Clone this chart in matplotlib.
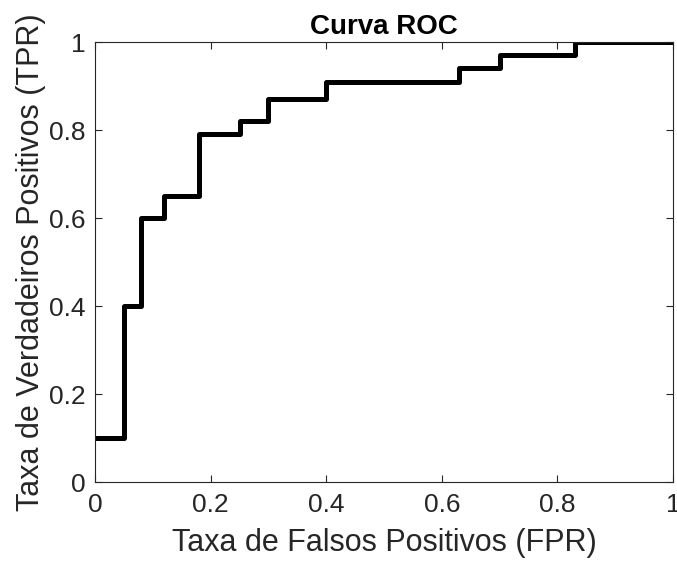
import numpy as np
import matplotlib.pyplot as plt

plt.rcParams['font.family'] = ['Liberation Sans', 'DejaVu Sans']

# pontos da curva ROC (degraus)
fpr = [0, 0.05, 0.08, 0.12, 0.18, 0.25, 0.30, 0.40, 0.63, 0.70, 0.83, 1.0]
tpr = [0.10, 0.40, 0.60, 0.65, 0.79, 0.82, 0.87, 0.91, 0.94, 0.97, 1.0, 1.0]

fig = plt.figure(figsize=(6.77, 5.61), dpi=100)
ax = fig.add_axes([95/677, 79/561, 578/677, 440/561])

ax.step(fpr, tpr, where='post', color='black', linewidth=3.6, clip_on=True)

ax.set_xlim(0, 1)
ax.set_ylim(0, 1)
ax.set_xticks([0, 0.2, 0.4, 0.6, 0.8, 1])
ax.set_xticklabels(['0', '0.2', '0.4', '0.6', '0.8', '1'])
ax.set_yticks([0, 0.2, 0.4, 0.6, 0.8, 1])
ax.set_yticklabels(['0', '0.2', '0.4', '0.6', '0.8', '1'])
ax.tick_params(direction='in', length=5, width=0.8, labelsize=19, colors='#262626',
               top=True, right=True)
ax.tick_params(axis='x', pad=8)
ax.tick_params(axis='y', pad=7)
ax.tick_params(labelcolor='#262626')
for s in ax.spines.values():
    s.set_color('#262626')
    s.set_linewidth(0.8)

ax.set_xlabel('Taxa de Falsos Positivos (FPR)', fontsize=22, labelpad=8, color='#262626')
ax.set_ylabel('Taxa de Verdadeiros Positivos (TPR)', fontsize=22, labelpad=2, color='#262626')
ax.set_title('Curva ROC', fontsize=20, fontweight='bold', pad=6)

plt.savefig('out.png', dpi=100)
